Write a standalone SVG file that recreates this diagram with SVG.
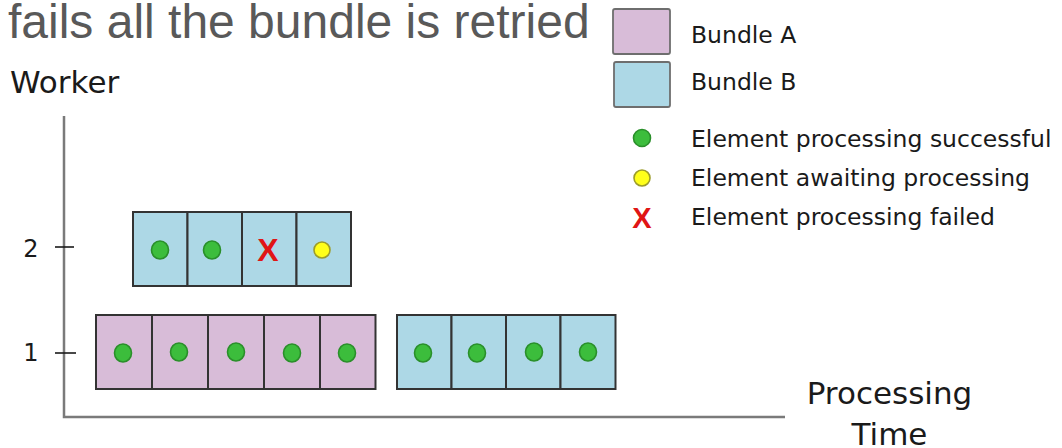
<svg xmlns="http://www.w3.org/2000/svg" width="1062" height="448" viewBox="0 0 1062 448">
  <style>
    .title { font-family: "Liberation Sans", Arial, sans-serif; font-size: 48px; fill: #595959; }
    .lbl { font-family: "DejaVu Sans", sans-serif; fill: #1a1a1a; }
    .axis { stroke: #7a7a7a; stroke-width: 2.5; fill: none; }
    .tick { stroke: #1a1a1a; stroke-width: 1.6; }
    .a { fill: #d8bcd8; stroke: #333; stroke-width: 2; }
    .b { fill: #add8e6; stroke: #333; stroke-width: 2; }
    .ok { fill: #3cbd3c; stroke: #2a8f2a; stroke-width: 1.6; }
    .wait { fill: #ffff1a; stroke: #9c9c2a; stroke-width: 1.6; }
    .fail { font-family: "Liberation Sans", Arial, sans-serif; font-weight: bold; fill: #e01515; }
    .key { stroke: #6e6e6e; stroke-width: 1.8; }
  </style>

  <text class="title" x="8" y="38">fails all the bundle is retried</text>

  <!-- axes -->
  <g id="axes">
    <polyline class="axis" points="64,116 64,417 785,417"/>
    <line class="tick" x1="55" y1="247" x2="74" y2="247"/>
    <line class="tick" x1="55" y1="353" x2="76" y2="353"/>
    <text class="lbl" x="10" y="93" font-size="31">Worker</text>
    <text class="lbl" x="31" y="257" font-size="24" text-anchor="middle">2</text>
    <text class="lbl" x="31" y="361" font-size="24" text-anchor="middle">1</text>
    <text class="lbl" x="889.5" y="404" font-size="31" text-anchor="middle">Processing</text>
    <text class="lbl" x="889.5" y="445" font-size="31" text-anchor="middle">Time</text>
  </g>

  <!-- worker 2: bundle B, partly processed -->
  <g id="worker2-bundleB">
    <rect class="b" x="133" y="212" width="54.5" height="74"/>
    <rect class="b" x="187.5" y="212" width="54.5" height="74"/>
    <rect class="b" x="242" y="212" width="54.5" height="74"/>
    <rect class="b" x="296.5" y="212" width="54.5" height="74"/>
    <ellipse class="ok" cx="160" cy="250" rx="8.5" ry="9"/>
    <ellipse class="ok" cx="212" cy="250" rx="8.5" ry="9"/>
    <text class="fail" x="268" y="261" font-size="32" text-anchor="middle">X</text>
    <circle class="wait" cx="322" cy="250" r="8"/>
  </g>

  <!-- worker 1: bundle A -->
  <g id="worker1-bundleA">
    <rect class="a" x="96" y="315" width="56" height="74"/>
    <rect class="a" x="152" y="315" width="56" height="74"/>
    <rect class="a" x="208" y="315" width="56" height="74"/>
    <rect class="a" x="264" y="315" width="56" height="74"/>
    <rect class="a" x="320" y="315" width="55.5" height="74"/>
    <ellipse class="ok" cx="123" cy="353" rx="8.5" ry="9"/>
    <ellipse class="ok" cx="179" cy="352" rx="8.5" ry="9"/>
    <ellipse class="ok" cx="236" cy="352" rx="8.5" ry="9"/>
    <ellipse class="ok" cx="292" cy="353" rx="8.5" ry="9"/>
    <ellipse class="ok" cx="347" cy="353" rx="8.5" ry="9"/>
  </g>

  <!-- worker 1: bundle B, retried -->
  <g id="worker1-bundleB">
    <rect class="b" x="397" y="315" width="54.5" height="74"/>
    <rect class="b" x="451.5" y="315" width="54.5" height="74"/>
    <rect class="b" x="506" y="315" width="54.5" height="74"/>
    <rect class="b" x="560.5" y="315" width="55" height="74"/>
    <ellipse class="ok" cx="423" cy="353" rx="8.5" ry="9"/>
    <ellipse class="ok" cx="477" cy="353" rx="8.5" ry="9"/>
    <ellipse class="ok" cx="534" cy="352" rx="8.5" ry="9"/>
    <ellipse class="ok" cx="588" cy="352" rx="8.5" ry="9"/>
  </g>

  <!-- legend -->
  <g id="legend">
    <rect class="key" x="613" y="9" width="57" height="45" rx="2" fill="#d8bcd8"/>
    <rect class="key" x="614" y="62" width="56" height="45" rx="2" fill="#add8e6"/>
    <text class="lbl" x="691" y="43" font-size="23.5">Bundle A</text>
    <text class="lbl" x="691" y="90" font-size="23.5">Bundle B</text>
    <circle class="ok" cx="642" cy="138" r="8.5"/>
    <circle class="wait" cx="642" cy="178" r="8"/>
    <text class="fail" x="642" y="228" font-size="29" text-anchor="middle">X</text>
    <text class="lbl" x="691" y="147" font-size="23.5">Element processing successful</text>
    <text class="lbl" x="691" y="186" font-size="23.5">Element awaiting processing</text>
    <text class="lbl" x="691" y="225" font-size="23.5">Element processing failed</text>
  </g>
</svg>
